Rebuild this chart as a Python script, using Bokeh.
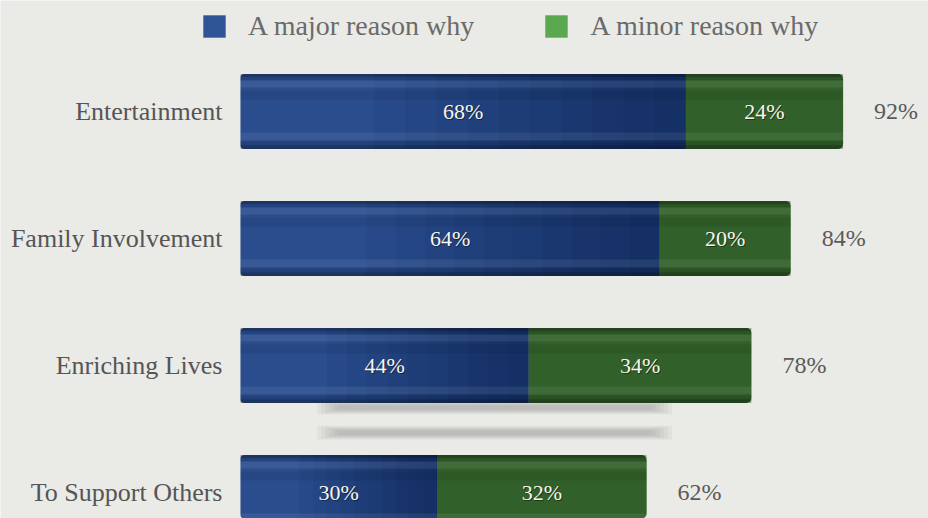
from bokeh.plotting import figure
from bokeh.models import ColumnDataSource, Range1d, Legend, LegendItem
from bokeh.core.properties import value
from bokeh.embed import file_html
from bokeh.resources import INLINE

# ---- data ----
categories = ["Entertainment", "Family Involvement", "Enriching Lives", "To Support Others"]
major = [68, 64, 44, 30]
minor = [24, 20, 34, 32]
series_names = ["A major reason why", "A minor reason why"]

total = [a + b for a, b in zip(major, minor)]
ypos = list(range(len(categories) - 1, -1, -1))

FONT = "Liberation Serif"
BG = "#eaeae6"
BLUE = "#2f5597"
GREEN = "#5aa850"
H = 0.59

p = figure(width=928, height=518, output_backend="svg", toolbar_location=None,
           x_range=Range1d(-36.64, 105.04), y_range=Range1d(-0.205, 3.874),
           min_border=0, background_fill_color=BG, border_fill_color=BG,
           outline_line_color=None)
p.axis.visible = False
p.grid.visible = False

src = ColumnDataSource(dict(
    y=ypos, cat=categories, major=major, minor=minor, total=total,
    mid_major=[m / 2 for m in major],
    mid_minor=[m + n / 2 for m, n in zip(major, minor)],
    lab_major=[f"{m}%" for m in major],
    lab_minor=[f"{n}%" for n in minor],
    lab_total=[f"{t}%" for t in total],
))

# soft blurred shadows between the lower bars (decorative)
i3 = 2
for dy in [-0.33, -0.53]:
    for k in range(6):
        p.hbar(y=[ypos[i3] + dy], left=[total[i3] * (0.15 + 0.008 * k)],
               right=[total[i3] * (0.845 - 0.008 * k)], height=0.11 - 0.015 * k,
               fill_color="#70706b", fill_alpha=0.07, line_color=None)

# main bars (legend colours), then darkened
r_major = p.hbar(y="y", left=0, right="major", height=H, source=src,
                 fill_color=BLUE, line_color=None, border_radius=(4, 0, 0, 4))
r_minor = p.hbar(y="y", left="major", right="total", height=H, source=src,
                 fill_color=GREEN, line_color=None, border_radius=(0, 5, 5, 0))
p.hbar(y="y", left=0, right="major", height=H, source=src,
       fill_color="#0a1a50", fill_alpha=0.12, line_color=None, border_radius=(4, 0, 0, 4))
p.hbar(y="y", left="major", right="total", height=H, source=src,
       fill_color="#0b1f08", fill_alpha=0.52, line_color=None, border_radius=(0, 5, 5, 0))

# smooth horizontal darkening toward the right end of the blue segment
steps = 10
for k in range(steps):
    f0 = 0.3 + 0.7 * k / steps
    p.hbar(y=ypos, left=[m * f0 for m in major], right=major, height=H,
           fill_color="#06123a", fill_alpha=0.055, line_color=None)

# cylindrical shading bands (fractions of bar height, from the top)
bands = [(0.00, 0.04, "black", 0.30), (0.04, 0.08, "black", 0.12),
         (0.09, 0.18, "white", 0.08), (0.22, 0.34, "black", 0.07),
         (0.78, 0.88, "white", 0.07), (0.90, 0.95, "black", 0.15),
         (0.95, 1.00, "black", 0.32)]
for f0, f1, col, al in bands:
    yc = [y + H / 2 - (f0 + f1) / 2 * H for y in ypos]
    p.hbar(y=yc, left=[0] * len(ypos), right=total, height=(f1 - f0) * H,
           fill_color=col, fill_alpha=al, line_color=None)

# labels inside bars (with slight shadow)
for xcol, tcol in [("mid_major", "lab_major"), ("mid_minor", "lab_minor")]:
    p.text(x=xcol, y="y", text=tcol, source=src, x_offset=1, y_offset=1.5,
           text_align="center", text_baseline="middle", text_color="black",
           text_alpha=0.45, text_font=value(FONT), text_font_size="22px")
    p.text(x=xcol, y="y", text=tcol, source=src,
           text_align="center", text_baseline="middle", text_color="#f7f5ec",
           text_font=value(FONT), text_font_size="22px")

# totals
p.text(x="total", y="y", text="lab_total", source=src, x_offset=31,
       text_align="left", text_baseline="middle", text_color="#5a5a5a",
       text_font=value(FONT), text_font_size="24px")

# category labels
p.text(x=0, y="y", text="cat", source=src, x_offset=-18,
       text_align="right", text_baseline="middle", text_color="#555555",
       text_font=value(FONT), text_font_size="26px")

# legend
legend = Legend(items=[LegendItem(label=series_names[0], renderers=[r_major]),
                       LegendItem(label=series_names[1], renderers=[r_minor])],
                orientation="horizontal", location=(200, 476),
                glyph_width=28, glyph_height=28, label_standoff=20, spacing=68,
                padding=0, margin=0, border_line_color=None,
                background_fill_alpha=0, label_text_font=FONT,
                label_text_font_size="28px", label_text_color="#6a6a6a",
                label_text_baseline="middle")
p.add_layout(legend)

open("out.html", "w").write(file_html(p, INLINE))
